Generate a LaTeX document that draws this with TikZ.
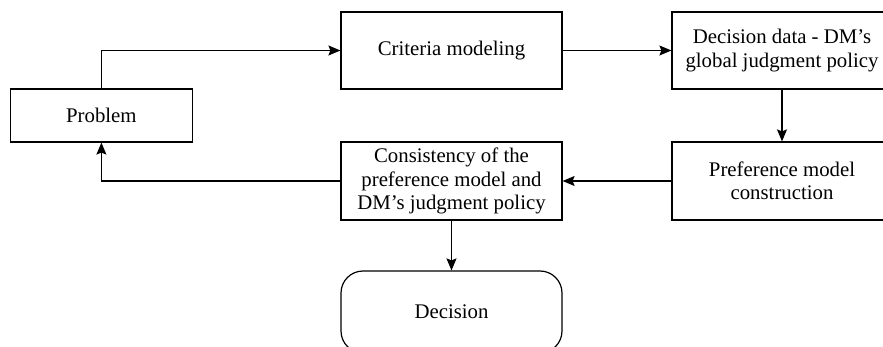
\documentclass[tikz,border=0pt]{standalone}
\usepackage{fontspec}
\setmainfont{Liberation Serif}
\usetikzlibrary{arrows.meta}

\tikzset{
  stagebox/.style={draw, line width=0.6pt, align=center, inner sep=2pt,
    font=\fontsize{10.4}{11.6}\selectfont},
  flow/.style={-{Stealth[length=6pt,width=5pt,inset=1pt]}, line width=0.6pt}
}

\begin{document}
\begin{tikzpicture}[x=1pt,y=1pt]
            \useasboundingbox (0,0) rectangle (441.5,-173.5);
            \clip (0,0) rectangle (441.5,-173.5);

            % stages
            \node[stagebox, minimum width=90.7pt, minimum height=26.5pt] (problem) at (50.7,-57.75) {Problem};
            \node[stagebox, minimum width=110.5pt, minimum height=38.5pt] (criteria) at (225.75,-25.25) {Criteria modeling};
            \node[stagebox, minimum width=110pt, minimum height=38.5pt] (decdata) at (391,-25.25) {Decision data - DM’s\\global judgment policy};
            \node[stagebox, minimum width=110pt, minimum height=39pt] (prefmodel) at (391,-90.5) {Preference model\\construction};
            \node[stagebox, minimum width=110.5pt, minimum height=39pt] (consist) at (225.75,-90.5) {Consistency of the\\preference model and\\DM’s judgment policy};
            \node[stagebox, rounded corners=11pt, minimum width=110.5pt, minimum height=41pt] (decision) at (225.75,-156) {Decision};

            % connectors
            \draw[flow] (problem.north) |- (criteria.west);
            \draw[flow] (criteria.east) -- (decdata.west);
            \draw[flow] (decdata.south) -- (prefmodel.north);
            \draw[flow] (prefmodel.west) -- (consist.east);
            \draw[flow] (consist.west) -| (problem.south);
            \draw[flow] (consist.south) -- (decision.north);
\end{tikzpicture}
\end{document}
